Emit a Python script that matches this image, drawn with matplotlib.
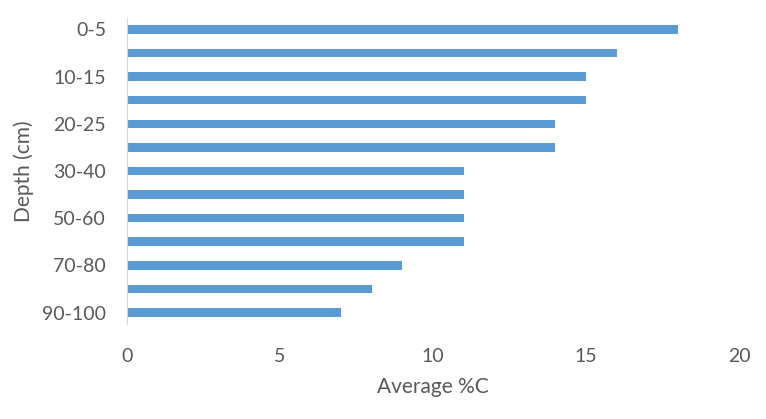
import matplotlib
matplotlib.use("Agg")
import matplotlib.pyplot as plt

depths = ["0-5", "5-10", "10-15", "15-20", "20-25", "25-30", "30-40",
          "40-50", "50-60", "60-70", "70-80", "80-90", "90-100"]
avg_c = [18, 16, 15, 15, 14, 14, 11, 11, 11, 11, 9, 8, 7]

plt.rcParams['font.family'] = ['Lato', 'DejaVu Sans']
grey = "#595959"

fig = plt.figure(figsize=(7.66, 4.19), dpi=100)
ax = fig.add_axes([0.1658, 0.226, 0.799, 0.732])

pos = list(range(len(depths)))
ax.barh(pos, avg_c, height=0.36, color="#5B9BD5")
ax.set_ylim(len(depths) - 0.5, -0.5)
ax.set_xlim(0, 20)
ax.set_xticks([0, 5, 10, 15, 20])
ax.set_yticks(pos[::2])
ax.set_yticklabels(depths[::2])

for s in ["top", "right", "bottom"]:
    ax.spines[s].set_visible(False)
ax.spines["left"].set_color("#D9D9D9")
ax.tick_params(axis="both", length=0, labelsize=14, colors=grey)
ax.tick_params(axis="x", pad=17)
ax.tick_params(axis="y", pad=15)

ax.set_xlabel("Average %C", fontsize=15, color=grey, labelpad=9)
ax.set_ylabel("Depth (cm)", fontsize=15, color=grey, labelpad=6)

fig.savefig("out.png", dpi=100)
